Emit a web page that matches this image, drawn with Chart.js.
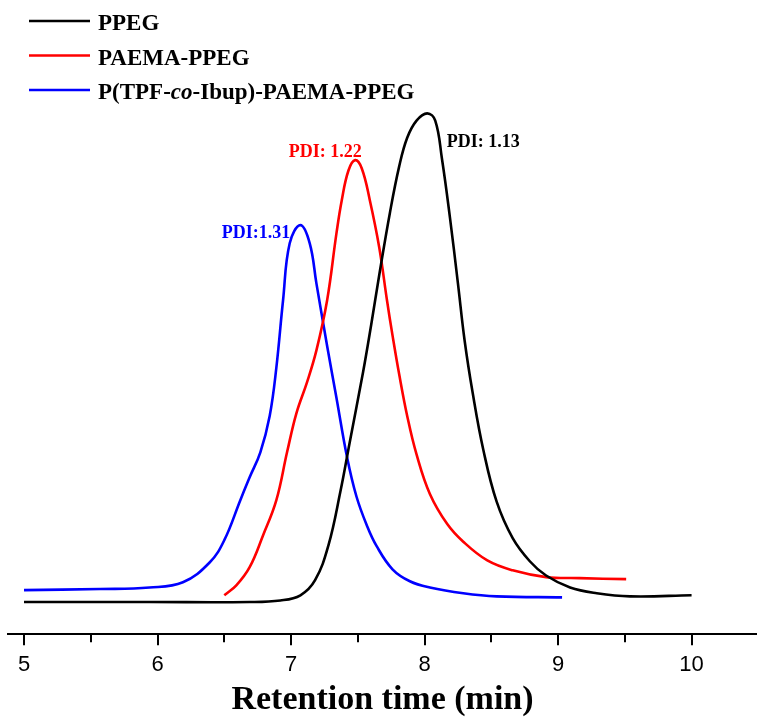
<!DOCTYPE html>
<html>
<head>
<meta charset="utf-8">
<script src="https://cdn.jsdelivr.net/npm/chart.js@4.4.1/dist/chart.umd.min.js"></script>
<style>
  html, body { margin: 0; padding: 0; background: #fff; }
  #wrap { width: 757px; height: 717px; position: relative; }
</style>
</head>
<body>
<div id="wrap"><canvas id="c" width="757" height="717"></canvas></div>
<script>
// ---- Data ----
const seriesLabels = ['PPEG', 'PAEMA-PPEG', 'P(TPF-co-Ibup)-PAEMA-PPEG'];
const seriesColors = ['#000000', '#ff0000', '#0000ff'];

const ppegX = [5.00, 5.94, 6.69, 6.92, 7.07, 7.18, 7.28, 7.37, 7.44, 7.54, 7.60, 7.66, 7.74, 7.81, 7.87, 7.94, 8.02, 8.08, 8.13, 8.19, 8.25, 8.30, 8.36, 8.44, 8.54, 8.66, 8.79, 8.91, 9.09, 9.29, 9.54, 10.00];
const ppegY = [6.2, 6.2, 6.2, 6.5, 7.5, 10.4, 17.1, 27.5, 37.0, 50.5, 59.5, 69.0, 81.0, 90.0, 95.5, 98.8, 100.2, 98.8, 91.5, 80.2, 67.5, 56.5, 46.5, 35.5, 25.5, 18.5, 14.0, 11.3, 9.0, 7.9, 7.3, 7.5];

const paemaX = [6.50, 6.59, 6.69, 6.79, 6.89, 6.97, 7.04, 7.12, 7.19, 7.27, 7.34, 7.38, 7.43, 7.48, 7.53, 7.59, 7.66, 7.72, 7.76, 7.81, 7.87, 7.94, 8.04, 8.17, 8.29, 8.47, 8.66, 8.91, 9.16, 9.51];
const paemaY = [7.5, 9.4, 12.9, 19.0, 25.8, 35.0, 42.5, 48.5, 54.6, 64.2, 77.1, 83.5, 89.2, 91.2, 89.6, 83.5, 74.5, 64.0, 57.5, 50.0, 42.0, 34.6, 27.0, 21.2, 17.8, 14.2, 12.3, 11.0, 10.8, 10.6];

const tpfX = [5.00, 5.57, 5.94, 6.19, 6.39, 6.50, 6.62, 6.69, 6.77, 6.84, 6.89, 6.94, 6.99, 7.07, 7.14, 7.19, 7.27, 7.34, 7.42, 7.49, 7.57, 7.64, 7.76, 7.89, 8.04, 8.29, 8.54, 9.03];
const tpfY = [8.5, 8.7, 9.0, 10.0, 13.8, 18.1, 25.8, 30.2, 35.0, 42.0, 51.3, 64.2, 75.2, 78.7, 75.2, 67.5, 55.5, 45.5, 34.0, 26.5, 20.8, 17.0, 12.5, 10.2, 9.0, 7.9, 7.3, 7.1];

const pdiTexts = ['PDI: 1.13', 'PDI: 1.22', 'PDI:1.31'];
const pdiX = [8.44, 7.257, 6.737];
const pdiY = [94.6, 92.7, 77.1];

const xTitle = 'Retention time (min)';
const xMin = 4.88, xMax = 10.49, yMin = 0, yMax = 122;
const minorTicks = [5.5, 6.5, 7.5, 8.5, 9.5];

function pts(xs, ys) { return xs.map((x, i) => ({ x: x, y: ys[i] })); }

const seriesData = [pts(ppegX, ppegY), pts(paemaX, paemaY), pts(tpfX, tpfY)];

const SERIF = "'Liberation Serif', 'Times New Roman', serif";
const SANS = "'Liberation Sans', Arial, sans-serif";

const overlayPlugin = {
  id: 'overlay',
  afterDraw(chart) {
    const ctx = chart.ctx;
    const xs = chart.scales.x, ys = chart.scales.y;
    // minor ticks
    ctx.save();
    ctx.strokeStyle = '#000';
    ctx.lineWidth = 2;
    const b = chart.chartArea.bottom;
    minorTicks.forEach(v => {
      const px = Math.round(xs.getPixelForValue(v));
      ctx.beginPath();
      ctx.moveTo(px, b);
      ctx.lineTo(px, b + 8);
      ctx.stroke();
    });
    // PDI labels
    ctx.font = "bold 18px " + SERIF;
    ctx.textAlign = 'center';
    ctx.textBaseline = 'middle';
    pdiTexts.forEach((t, i) => {
      ctx.fillStyle = seriesColors[i];
      ctx.fillText(t, xs.getPixelForValue(pdiX[i]), ys.getPixelForValue(pdiY[i]));
    });
    // legend
    ctx.textAlign = 'left';
    ctx.textBaseline = 'alphabetic';
    chart.data.datasets.forEach((ds, i) => {
      const y = 21 + i * 34.5;
      ctx.strokeStyle = ds.borderColor;
      ctx.lineWidth = 2.5;
      ctx.beginPath();
      ctx.moveTo(29, y);
      ctx.lineTo(90, y);
      ctx.stroke();
      ctx.fillStyle = '#000';
      const parts = ds.label.split(/(-co-)/);
      let x = 98;
      parts.forEach(p => {
        if (p === '-co-') {
          ctx.font = "bold 23px " + SERIF;
          ctx.fillText('-', x, y + 9); x += ctx.measureText('-').width;
          ctx.font = "italic bold 23px " + SERIF;
          ctx.fillText('co', x, y + 9); x += ctx.measureText('co').width;
          ctx.font = "bold 23px " + SERIF;
          ctx.fillText('-', x, y + 9); x += ctx.measureText('-').width;
        } else {
          ctx.font = "bold 23px " + SERIF;
          ctx.fillText(p, x, y + 9); x += ctx.measureText(p).width;
        }
      });
    });
    ctx.restore();
  }
};

new Chart(document.getElementById('c'), {
  type: 'line',
  data: {
    datasets: seriesLabels.map((lab, i) => ({
      label: lab,
      data: seriesData[i],
      borderColor: seriesColors[i],
      backgroundColor: seriesColors[i],
      borderWidth: 2.6,
      pointRadius: 0,
      fill: false,
      tension: 0.4
    }))
  },
  options: {
    responsive: false,
    animation: false,
    devicePixelRatio: 1,
    layout: { padding: { left: 8, right: 0, top: 0, bottom: 0 } },
    plugins: { legend: { display: false }, tooltip: { enabled: false } },
    scales: {
      x: {
        type: 'linear',
        min: xMin, max: xMax,
        border: { display: true, color: '#000', width: 2 },
        grid: { display: true, drawOnChartArea: false, drawTicks: true, tickLength: 11, color: '#000', lineWidth: 2 },
        ticks: {
          stepSize: 1, includeBounds: false, color: '#000', padding: 6,
          font: { family: SANS, size: 22 },
          maxRotation: 0, autoSkip: false
        },
        title: {
          display: true, text: xTitle, color: '#000',
          font: { family: SERIF, size: 34, weight: 'bold', lineHeight: 0.98 },
          padding: { top: 0, bottom: 0 }
        }
      },
      y: { type: 'linear', display: false, min: yMin, max: yMax }
    }
  },
  plugins: [overlayPlugin]
});
</script>
</body>
</html>
